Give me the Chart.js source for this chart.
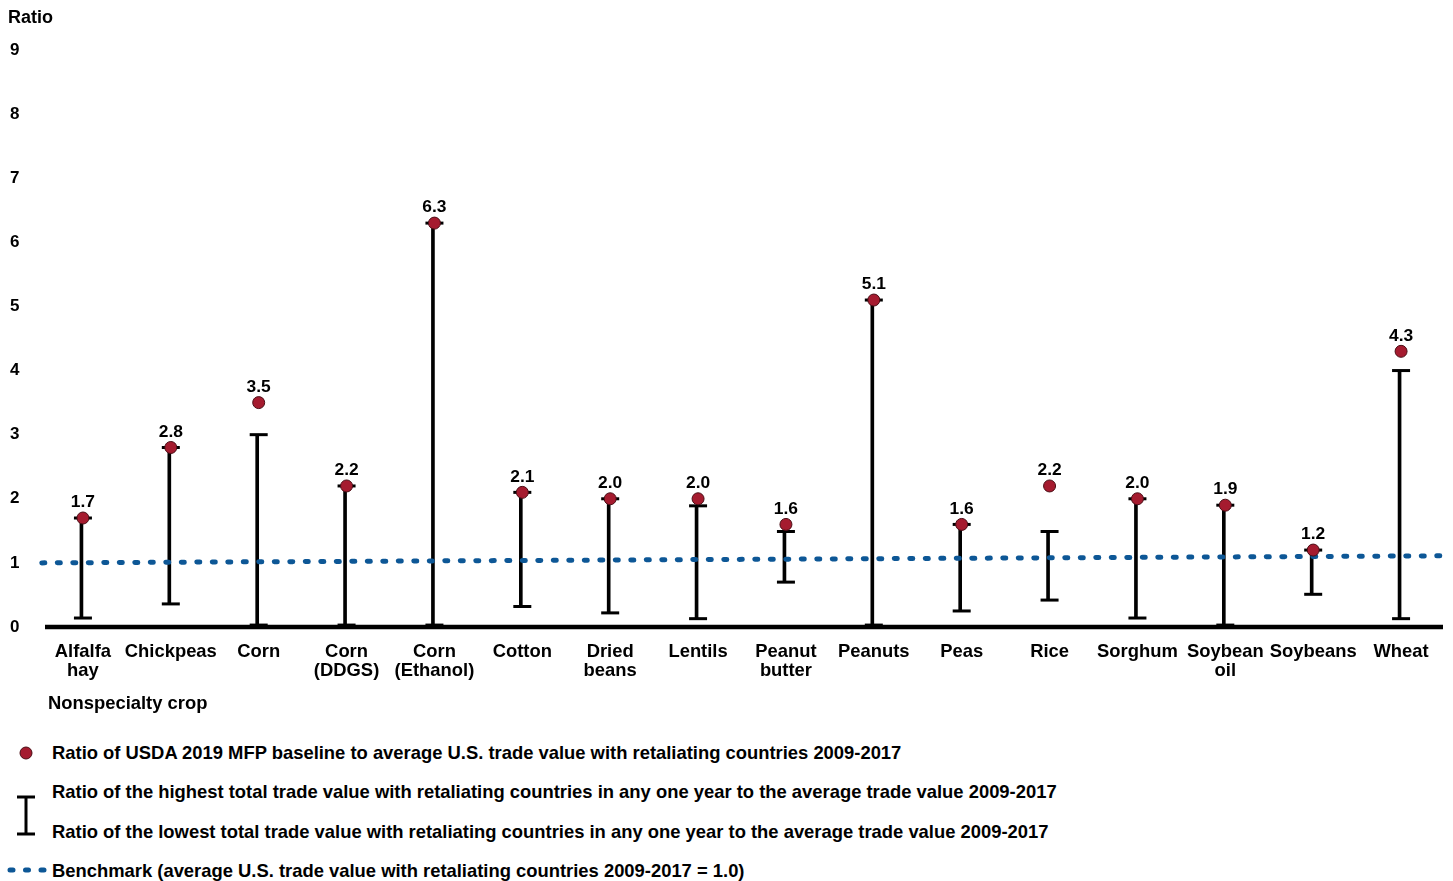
<!DOCTYPE html>
<html>
<head>
<meta charset="utf-8">
<title>Ratio of MFP baseline to trade value, by nonspecialty crop</title>
<script src="https://cdn.jsdelivr.net/npm/chart.js@4.4.1/dist/chart.umd.min.js"></script>
<style>
  html, body { margin: 0; padding: 0; background: #fff; }
  body {
    width: 1453px; height: 881px; position: relative; overflow: hidden;
    font-family: "Liberation Sans", Arial, sans-serif; font-weight: bold; color: #000;
  }
  #wrap { position: absolute; left: 0; top: 0; width: 1457px; height: 720px; }
  .t { position: absolute; white-space: nowrap; transform: translateY(-50%); line-height: 1; }
  .lg { font-size: 18.4px; left: 52px; }
  #icons { position: absolute; left: 0; top: 730px; }
</style>
</head>
<body>
<div id="wrap"><canvas id="c"></canvas></div>

<div class="t" style="left:8px; top:17px; font-size:18px;">Ratio</div>
<div class="t" style="left:48px; top:703px; font-size:18.4px;">Nonspecialty crop</div>

<svg id="icons" width="60" height="151" viewBox="0 730 60 151">
  <circle cx="26" cy="753" r="6" fill="#a51b2f" stroke="#4a0d15" stroke-width="1"/>
  <line x1="26" y1="797" x2="26" y2="834" stroke="#000" stroke-width="3"/>
  <line x1="17" y1="797" x2="35" y2="797" stroke="#000" stroke-width="3"/>
  <line x1="17" y1="834" x2="35" y2="834" stroke="#000" stroke-width="3"/>
  <line x1="10" y1="870" x2="44" y2="870" stroke="#0d5796" stroke-width="5"
        stroke-linecap="round" stroke-dasharray="3 12.5"/>
</svg>
<div class="t lg" style="top:753px;">Ratio of USDA 2019 MFP baseline to average U.S. trade value with retaliating countries 2009-2017</div>
<div class="t lg" style="top:792px;">Ratio of the highest total trade value with retaliating countries in any one year to the average trade value 2009-2017</div>
<div class="t lg" style="top:832px;">Ratio of the lowest total trade value with retaliating countries in any one year to the average trade value 2009-2017</div>
<div class="t lg" style="top:871px;">Benchmark (average U.S. trade value with retaliating countries 2009-2017 = 1.0)</div>

<script>
// Crops on the category axis (multi-line labels as arrays)
const crops = [
  ["Alfalfa", "hay"], "Chickpeas", "Corn", ["Corn", "(DDGS)"], ["Corn", "(Ethanol)"],
  "Cotton", ["Dried", "beans"], "Lentils", ["Peanut", "butter"], "Peanuts", "Peas",
  "Rice", "Sorghum", ["Soybean", "oil"], "Soybeans", "Wheat"
];

// Ratio of USDA 2019 MFP baseline to average trade value 2009-2017
const mfpRatio = [1.7, 2.8, 3.5, 2.2, 6.3, 2.1, 2.0, 2.0, 1.6, 5.1, 1.6, 2.2, 2.0, 1.9, 1.2, 4.3];

// Highest single-year trade value relative to the 2009-2017 average
const highRatio = [1.7, 2.8, 3.0, 2.2, 6.3, 2.1, 2.0, 1.89, 1.49, 5.1, 1.6, 1.49, 2.0, 1.9, 1.2, 4.0];

// Lowest single-year trade value relative to the 2009-2017 average
const lowRatio = [0.14, 0.36, 0.03, 0.03, 0.03, 0.32, 0.22, 0.13, 0.70, 0.03, 0.25, 0.42, 0.14, 0.03, 0.51, 0.13];

// Benchmark line, left and right ends
const benchmarkEnds = [1.0, 1.11];

// Y axis ticks
const yTicks = [0, 1, 2, 3, 4, 5, 6, 7, 8, 9];

const FONT = "'Liberation Sans', Arial, sans-serif";
const RED = "#a51b2f";
const BLUE = "#0d5796";

// Heavy baseline along the bottom of the plot, slightly inset from the left
const baseline = {
  id: "baseline",
  beforeDatasetsDraw(chart) {
    const { ctx, chartArea } = chart;
    const y = chart.scales.y.getPixelForValue(0);
    ctx.save();
    ctx.strokeStyle = "#000";
    ctx.lineWidth = 4.5;
    ctx.beginPath();
    ctx.moveTo(chartArea.left + 6, y);
    ctx.lineTo(chartArea.right - 2, y);
    ctx.stroke();
    ctx.restore();
  }
};

// Writes each MFP ratio above its marker
const valueLabels = {
  id: "valueLabels",
  afterDatasetsDraw(chart) {
    const idx = chart.data.datasets.findIndex(d => d.id === "mfp");
    const meta = chart.getDatasetMeta(idx);
    const ctx = chart.ctx;
    ctx.save();
    ctx.font = "bold 17.4px " + FONT;
    ctx.fillStyle = "#000";
    ctx.textAlign = "center";
    ctx.textBaseline = "middle";
    meta.data.forEach((pt, i) => {
      ctx.fillText(mfpRatio[i].toFixed(1), pt.x, pt.y - 15.5);
    });
    ctx.restore();
  }
};

const capStyle = {
  type: "line",
  showLine: false,
  pointStyle: "line",
  pointRadius: 9,
  pointHoverRadius: 9,
  pointBorderWidth: 3,
  pointBorderColor: "#000",
  borderColor: "#000",
  order: 4
};

new Chart(document.getElementById("c"), {
  data: {
    labels: crops,
    datasets: [
      {
        type: "bar",
        label: "range",
        data: lowRatio.map((lo, i) => [lo, highRatio[i]]),
        backgroundColor: "#000",
        borderWidth: 0,
        barThickness: 3,
        order: 5
      },
      Object.assign({ label: "high", data: highRatio }, capStyle),
      Object.assign({ label: "low", data: lowRatio }, capStyle),
      {
        type: "line",
        label: "benchmark",
        xAxisID: "xb",
        data: [{ x: 0.002, y: benchmarkEnds[0] }, { x: 0.9985, y: benchmarkEnds[1] }],
        borderColor: BLUE,
        borderWidth: 5,
        borderDash: [3, 12.5],
        borderCapStyle: "round",
        pointRadius: 0,
        fill: false,
        order: 3
      },
      {
        id: "mfp",
        type: "line",
        label: "mfp",
        data: mfpRatio,
        showLine: false,
        pointStyle: "circle",
        pointRadius: 6,
        pointHoverRadius: 6,
        pointBackgroundColor: RED,
        pointBorderColor: "#4a0d15",
        pointBorderWidth: 1,
        order: 1
      }
    ]
  },
  options: {
    responsive: true,
    maintainAspectRatio: false,
    animation: false,
    events: [],
    layout: { padding: { top: 50, left: 10, right: 8, bottom: 0 } },
    plugins: { legend: { display: false }, tooltip: { enabled: false }, title: { display: false } },
    scales: {
      x: {
        type: "category",
        offset: true,
        grid: { display: false, drawTicks: false },
        border: { display: false },
        ticks: {
          color: "#000",
          padding: 16,
          maxRotation: 0,
          autoSkip: false,
          font: { family: FONT, size: 18.4, weight: "bold", lineHeight: 1.0 }
        },
        afterFit(scale) { scale.height = 93; }
      },
      xb: {
        type: "linear",
        display: false,
        min: 0,
        max: 1
      },
      y: {
        min: yTicks[0],
        max: yTicks[yTicks.length - 1],
        grid: { display: false, drawTicks: false },
        border: { display: false },
        afterBuildTicks(scale) { scale.ticks = yTicks.map(v => ({ value: v })); },
        ticks: {
          color: "#000",
          crossAlign: "far",
          padding: 0,
          font: { family: FONT, size: 17, weight: "bold" },
          callback: v => String(v)
        },
        afterFit(scale) { scale.width = 29; }
      }
    }
  },
  plugins: [baseline, valueLabels]
});
</script>
</body>
</html>
